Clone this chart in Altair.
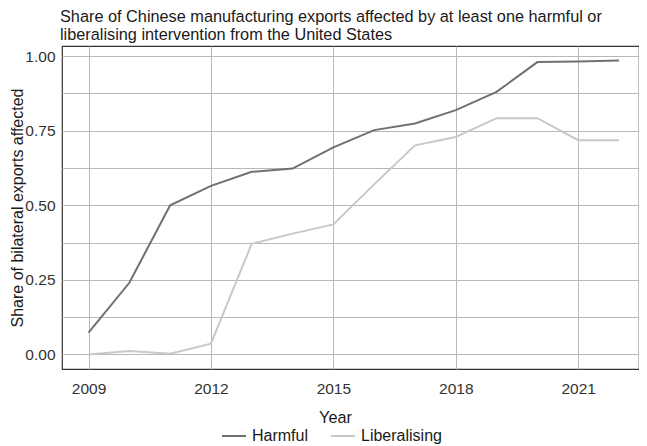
import altair as alt
import pandas as pd

years = list(range(2009, 2023))
harmful = [0.073, 0.240, 0.500, 0.565, 0.612, 0.623, 0.694, 0.752, 0.774, 0.819, 0.880, 0.980, 0.982, 0.985]
liberalising = [0.000, 0.011, 0.002, 0.036, 0.371, 0.405, 0.436, 0.570, 0.701, 0.729, 0.792, 0.792, 0.718, 0.718]
types = ["Harmful", "Liberalising"]
colors = ["#707070", "#c8c8c8"]
x_ticks = [2009, 2012, 2015, 2018, 2021]
y_grid = [0, 0.125, 0.25, 0.375, 0.5, 0.625, 0.75, 0.875, 1.0]
title_lines = [
    "Share of Chinese manufacturing exports affected by at least one harmful or",
    "liberalising intervention from the United States",
]

df = pd.DataFrame({
    "Year": years * 2,
    "Share": harmful + liberalising,
    "Type": [types[0]] * len(years) + [types[1]] * len(years),
})

FONT = "Liberation Sans"
W, H = 577, 323

chart = alt.Chart(df).mark_line(strokeWidth=2).encode(
    x=alt.X(
        "Year:Q",
        scale=alt.Scale(domain=[2008.35, 2022.49], nice=False, zero=False),
        axis=alt.Axis(
            values=x_ticks, format="d", title="Year", ticks=False, tickSize=0,
            domain=False, labelPadding=12, labelFontSize=15.5,
            titleX=273, titleY=53, titleBaseline="alphabetic", titleAlign="center",
            titleFontSize=16.3,
        ),
    ),
    y=alt.Y(
        "Share:Q",
        scale=alt.Scale(domain=[-0.049, 1.034], nice=False, zero=False),
        axis=alt.Axis(
            values=y_grid, format=".2f",
            labelExpr="datum.value % 0.25 === 0 ? datum.label : ''",
            title="Share of bilateral exports affected", ticks=False, tickSize=0,
            domain=False, labelPadding=7, labelFontSize=15.5,
            titleX=-40, titleY=161.5, titleAngle=-90, titleBaseline="alphabetic",
            titleAlign="center", titleFontSize=16,
        ),
    ),
    color=alt.Color(
        "Type:N",
        scale=alt.Scale(domain=types, range=colors),
        legend=alt.Legend(
            orient="none", legendX=159, legendY=377, direction="horizontal",
            title=None, symbolType="stroke", symbolSize=576, symbolStrokeWidth=2,
            labelFontSize=16, labelOffset=5, columnPadding=18, padding=0,
            labelFont=FONT, labelColor="#1a1a1a",
        ),
    ),
).properties(
    width=W,
    height=H,
    title=alt.TitleParams(
        text=title_lines, anchor="start", frame="group", fontSize=16.3,
        font=FONT, fontWeight="normal", color="#1a1a1a", lineHeight=17.5,
        baseline="bottom", offset=9, dy=22, dx=-2,
    ),
    autosize=alt.AutoSizeParams(type="none"),
    padding={"left": 54, "top": 38, "right": 0, "bottom": 77},
).configure_view(
    stroke="#333333", strokeWidth=1.2
).configure_axis(
    labelFont=FONT, titleFont=FONT, labelColor="#333333", titleColor="#1a1a1a",
    titleFontWeight="normal", gridColor="#b8b8b8", gridWidth=1, gridOpacity=1,
)

chart.save("out.html", embed_options={"renderer": "svg", "actions": False})
